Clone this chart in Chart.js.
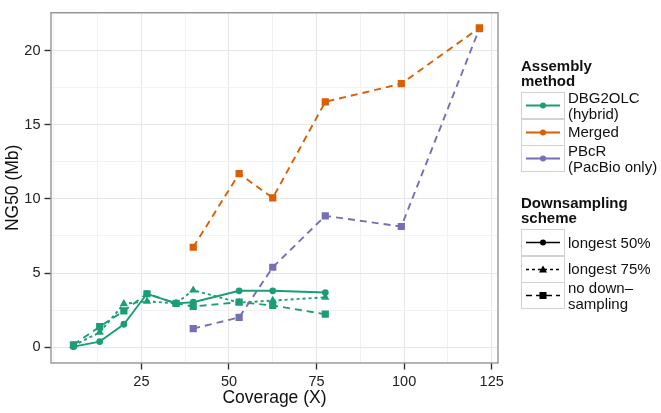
<!DOCTYPE html>
<html>
<head>
<meta charset="utf-8">
<script src="https://cdn.jsdelivr.net/npm/chart.js@4"></script>
<style>
  body { margin: 0; background: #fff; font-family: "Liberation Sans", Arial, sans-serif; color: #111; }
  #wrap { position: relative; width: 661px; height: 413px; }
  .ttl { position: absolute; left: 521px; font-weight: bold; font-size: 15px; line-height: 15px; }
  .key { position: absolute; left: 520.5px; height: 26.5px; display: flex; align-items: center; }
  .key svg { flex: none; }
  .lab { margin-left: 3.5px; font-size: 15px; line-height: 16px; white-space: nowrap; }
</style>
</head>
<body>
<div id="wrap">
  <canvas id="chartNG50"></canvas>
  <div class="ttl" style="top:58px">Assembly<br>method</div>
  <div class="key" style="top:92.7px">
    <svg width="44" height="27"><rect x="0.5" y="0.5" width="43" height="26" fill="#fff" stroke="#d2d2d2"/><line x1="5" y1="13.5" x2="39" y2="13.5" stroke="#1B9E77" stroke-width="1.8"/><circle cx="22" cy="13.5" r="3" fill="#1B9E77"/></svg>
    <div class="lab">DBG2OLC<br>(hybrid)</div>
  </div>
  <div class="key" style="top:119.2px">
    <svg width="44" height="27"><rect x="0.5" y="0.5" width="43" height="26" fill="#fff" stroke="#d2d2d2"/><line x1="5" y1="13.5" x2="39" y2="13.5" stroke="#D95F02" stroke-width="1.8"/><circle cx="22" cy="13.5" r="3" fill="#D95F02"/></svg>
    <div class="lab">Merged</div>
  </div>
  <div class="key" style="top:145.7px">
    <svg width="44" height="27"><rect x="0.5" y="0.5" width="43" height="26" fill="#fff" stroke="#d2d2d2"/><line x1="5" y1="13.5" x2="39" y2="13.5" stroke="#7570B3" stroke-width="1.8"/><circle cx="22" cy="13.5" r="3" fill="#7570B3"/></svg>
    <div class="lab">PBcR<br>(PacBio only)</div>
  </div>
  <div class="ttl" style="top:195px">Downsampling<br>scheme</div>
  <div class="key" style="top:229.3px">
    <svg width="44" height="27"><rect x="0.5" y="0.5" width="43" height="26" fill="#fff" stroke="#d2d2d2"/><line x1="5" y1="13.5" x2="39" y2="13.5" stroke="#000" stroke-width="1.6"/><circle cx="22" cy="13.5" r="3" fill="#000"/></svg>
    <div class="lab">longest 50%</div>
  </div>
  <div class="key" style="top:255.9px">
    <svg width="44" height="27"><rect x="0.5" y="0.5" width="43" height="26" fill="#fff" stroke="#d2d2d2"/><line x1="5" y1="13.5" x2="39" y2="13.5" stroke="#000" stroke-width="1.6" stroke-dasharray="3 3"/><polygon points="22,9.5 26,16.5 18,16.5" fill="#000"/></svg>
    <div class="lab">longest 75%</div>
  </div>
  <div class="key" style="top:282.5px">
    <svg width="44" height="27"><rect x="0.5" y="0.5" width="43" height="26" fill="#fff" stroke="#d2d2d2"/><line x1="5" y1="13.5" x2="39" y2="13.5" stroke="#000" stroke-width="1.6" stroke-dasharray="6 4"/><rect x="18.5" y="10" width="7" height="7" fill="#000"/></svg>
    <div class="lab">no down–<br>sampling</div>
  </div>
</div>
<script>
// coverage (X) and NG50 (Mb)
const dbgCoverage = [5.6, 13.1, 20.0, 26.6, 34.9, 39.8, 52.9, 62.5, 77.5];
const dbgLongest50 = [0.03, 0.37, 1.54, 3.6, 2.95, 3.03, 3.8, 3.8, 3.68];
const dbgLongest75 = [0.1, 0.99, 2.92, 3.09, 2.95, 3.84, 3.0, 3.14, 3.36];
const dbgNoDown = [0.15, 1.38, 2.44, 3.6, 2.95, 2.74, 3.03, 2.81, 2.22];

const pbCoverage = [39.8, 52.9, 62.5, 77.5, 99.2, 121.5];
const mergedNG50 = [6.74, 11.71, 10.07, 16.56, 17.78, 21.55];
const pbcrNG50 = [1.25, 2.0, 5.39, 8.86, 8.14, 21.5];

const xTicks = [25, 50, 75, 100, 125];
const yTicks = [0, 5, 10, 15, 20];
const xMinor = [0, 12.5, 37.5, 62.5, 87.5, 112.5];
const yMinor = [2.5, 7.5, 12.5, 17.5, 22.5];

const GREEN = "#1B9E77", ORANGE = "#D95F02", PURPLE = "#7570B3";
const DASHED = [7, 5], DOTTED = [3, 3];

Chart.defaults.font.family = '"Liberation Sans", Arial, sans-serif';
Chart.defaults.color = "#111";

const pts = (xs, ys) => xs.map((x, i) => ({ x, y: ys[i] }));

function series(data, color, style, dash) {
  const r = style === "circle" ? 3.4 : style === "triangle" ? 4.8 : 5.1;
  return {
    data, borderColor: color, backgroundColor: color, borderWidth: 1.9, borderDash: dash,
    showLine: true, pointStyle: style, pointRadius: r, pointHoverRadius: r,
    pointBorderWidth: 0, pointBackgroundColor: color,
  };
}

const panelBorder = {
  id: "panelBorder",
  afterDraw(chart) {
    const { ctx, chartArea: a } = chart;
    ctx.save();
    ctx.strokeStyle = "#959595";
    ctx.lineWidth = 1.4;
    ctx.strokeRect(a.left, a.top, a.right - a.left, a.bottom - a.top);
    ctx.restore();
  },
};

function axis(min, max, major, minor, title, afterFit, titlePad) {
  return {
    type: "linear", min, max,
    afterBuildTicks: (s) => { s.ticks = [...minor, ...major].filter((v) => v >= min && v <= max).sort((a, b) => a - b).map((v) => ({ value: v })); },
    afterFit,
    border: { display: false },
    grid: {
      color: (c) => (major.includes(c.tick && c.tick.value) ? "#e6e6e6" : "#f2f2f2"),
      lineWidth: 1,
      tickLength: 6.5,
      tickWidth: 1.4,
      tickColor: (c) => (major.includes(c.tick && c.tick.value) ? "#333" : "rgba(0,0,0,0)"),
    },
    ticks: {
      autoSkip: false, maxRotation: 0, padding: 4, color: "#222", font: { size: 14.5 },
      callback: (v) => (major.includes(v) ? String(v) : ""),
    },
    title: { display: true, text: title, font: { size: 17.5 }, color: "#111", padding: titlePad },
  };
}

new Chart(document.getElementById("chartNG50").getContext("2d"), {
  type: "scatter",
  data: {
    datasets: [
      series(pts(pbCoverage, mergedNG50), ORANGE, "rect", DASHED),
      series(pts(pbCoverage, pbcrNG50), PURPLE, "rect", DASHED),
      series(pts(dbgCoverage, dbgLongest50), GREEN, "circle", []),
      series(pts(dbgCoverage, dbgLongest75), GREEN, "triangle", DOTTED),
      series(pts(dbgCoverage, dbgNoDown), GREEN, "rect", DASHED),
    ],
  },
  options: {
    responsive: true, maintainAspectRatio: false, animation: false,
    layout: { padding: { top: 4, right: 163, left: 0, bottom: 0 } },
    plugins: { legend: { display: false }, tooltip: { enabled: false } },
    scales: {
      x: axis(-0.8, 126.8, xTicks, xMinor, "Coverage (X)", (s) => { s.height = 50; }, { top: 0, bottom: 4 }),
      y: axis(-1.075, 22.575, yTicks, yMinor, "NG50 (Mb)", (s) => { s.width = 51; }, { top: 3, bottom: 0 }),
    },
  },
  plugins: [panelBorder],
});
</script>
</body>
</html>
